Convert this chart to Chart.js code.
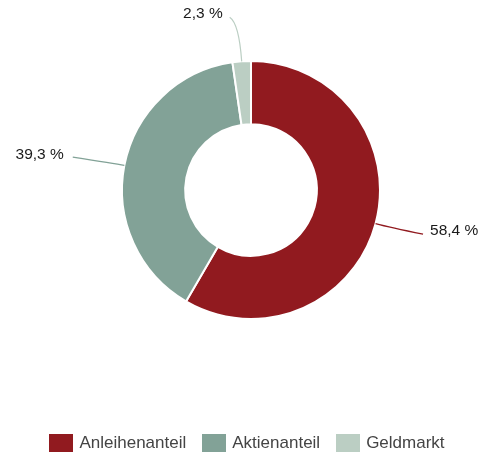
<!DOCTYPE html>
<html>
<head>
<meta charset="utf-8">
<script src="https://cdn.jsdelivr.net/npm/chart.js@4.4.0/dist/chart.umd.min.js"></script>
<style>
  body { margin: 0; background: #fff; }
  #wrap { position: relative; width: 491px; height: 459px; }
  #legend {
    position: absolute; left: 0; top: 434px; width: 491px;
    display: flex; justify-content: center; padding-left: 3px; box-sizing: border-box;
    font-family: "Liberation Sans", Arial, sans-serif; font-size: 17px; color: #444;
  }
  .item { display: flex; align-items: center; margin: 0 8px; line-height: 18px; }
  .box { width: 24px; height: 18px; margin-right: 6px; }
</style>
</head>
<body>
<div id="wrap">
  <canvas id="chart" width="491" height="459"></canvas>
  <div id="legend"></div>
</div>
<script>
const categories = ["Anleihenanteil", "Aktienanteil", "Geldmarkt"];
const shares = [58.4, 39.3, 2.3];
const valueLabels = ["58,4 %", "39,3 %", "2,3 %"];
const colors = ["#911a1f", "#82a297", "#bbcec3"];

// where each leader line ends, relative to the outer edge of its slice
const leaders = [
  { dx: 47.5, dy: 10.5, bend: 15, align: "left", tx: 7, ty: -3.5 },
  { dx: -51.6, dy: -8.3, bend: 10, align: "right", tx: -9, ty: -2.5 },
  { dx: -12, dy: -44, bend: 38, align: "right", tx: -7, ty: -4 }
];

const leaderLabels = {
  id: "leaderLabels",
  afterDatasetsDraw(chart) {
    const ctx = chart.ctx;
    const arcs = chart.getDatasetMeta(0).data;
    arcs.forEach((arc, i) => {
      const a = (arc.startAngle + arc.endAngle) / 2;
      const r = arc.outerRadius;
      const x0 = arc.x + Math.cos(a) * r;
      const y0 = arc.y + Math.sin(a) * r;
      const L = leaders[i];
      const cx = x0 + Math.cos(a) * L.bend;
      const cy = y0 + Math.sin(a) * L.bend;
      const x1 = x0 + L.dx, y1 = y0 + L.dy;
      ctx.save();
      ctx.strokeStyle = colors[i];
      ctx.lineWidth = 1.2;
      ctx.beginPath();
      ctx.moveTo(x0, y0);
      ctx.quadraticCurveTo(cx, cy, x1, y1);
      ctx.stroke();
      ctx.fillStyle = "#1a1a1a";
      ctx.font = "15.5px 'Liberation Sans', Arial, sans-serif";
      ctx.textAlign = L.align;
      ctx.textBaseline = "middle";
      ctx.fillText(valueLabels[i], x1 + L.tx, y1 + L.ty);
      ctx.restore();
    });
  }
};

new Chart(document.getElementById("chart"), {
  type: "doughnut",
  data: {
    labels: categories,
    datasets: [{
      data: shares,
      backgroundColor: colors,
      borderColor: "#fff",
      borderWidth: 2
    }]
  },
  options: {
    responsive: false,
    animation: false,
    cutout: "51%",
    layout: { padding: { top: 60, left: 11, right: 0, bottom: 139 } },
    plugins: {
      legend: { display: false },
      tooltip: { enabled: false }
    }
  },
  plugins: [leaderLabels]
});

const legend = document.getElementById("legend");
categories.forEach((name, i) => {
  const item = document.createElement("div");
  item.className = "item";
  item.innerHTML = "<span class='box' style='background:" + colors[i] + "'></span><span>" + name + "</span>";
  legend.appendChild(item);
});
</script>
</body>
</html>
